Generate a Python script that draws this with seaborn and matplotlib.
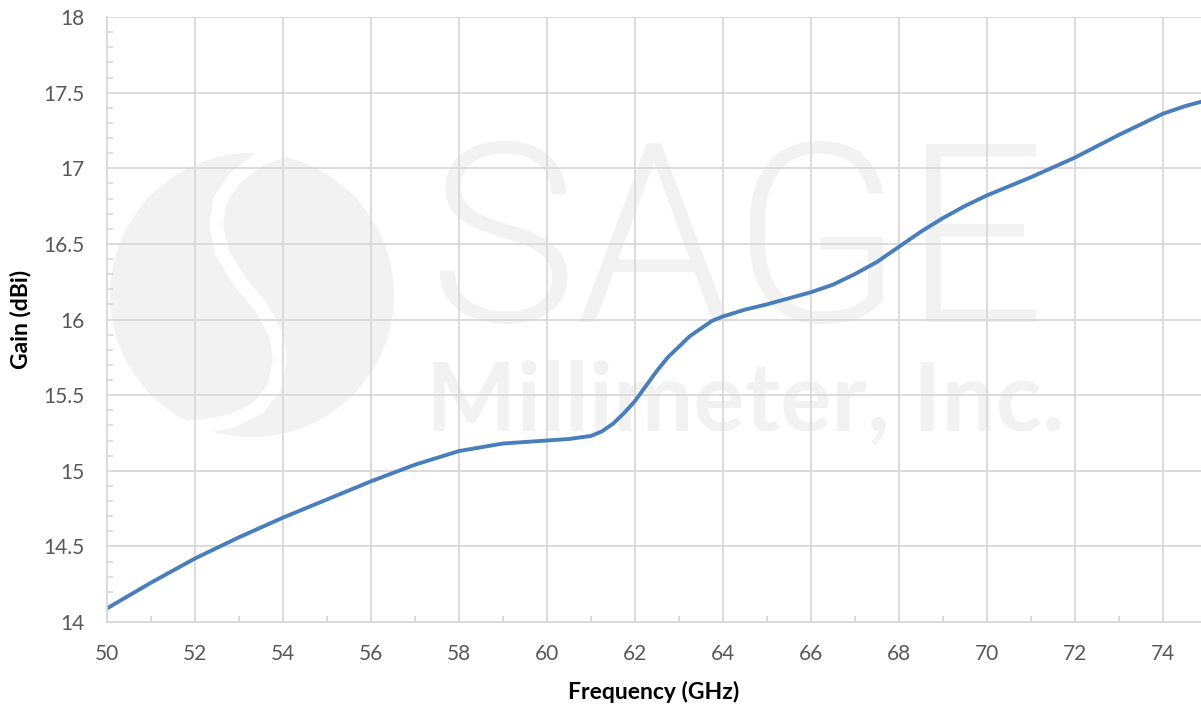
import numpy as np
import pandas as pd
import matplotlib.pyplot as plt
import seaborn as sns
from matplotlib.patches import Ellipse, PathPatch
from matplotlib.path import Path
from matplotlib.ticker import MultipleLocator

freq = [50, 51, 52, 53, 54, 55, 56, 57, 58, 59, 60, 60.5, 61, 61.25, 61.5, 61.75,
        62, 62.25, 62.5, 62.75, 63, 63.25, 63.5, 63.75, 64, 64.5, 65, 65.5, 66,
        66.5, 67, 67.5, 68, 68.5, 69, 69.5, 70, 71, 72, 73, 74, 74.5, 75]
gain = [14.09, 14.26, 14.42, 14.56, 14.69, 14.81, 14.93, 15.04, 15.13, 15.18,
        15.20, 15.21, 15.23, 15.26, 15.31, 15.38, 15.46, 15.56, 15.66, 15.75,
        15.82, 15.89, 15.94, 15.99, 16.02, 16.065, 16.10, 16.14, 16.18, 16.23,
        16.30, 16.38, 16.48, 16.58, 16.67, 16.75, 16.82, 16.94, 17.07, 17.22,
        17.36, 17.41, 17.45]

df = pd.DataFrame({"Frequency (GHz)": freq, "Gain (dBi)": gain})

sns.set_style("white")
plt.rcParams["font.family"] = ["Lato", "DejaVu Sans"]

W, H = 1201, 706
fig = plt.figure(figsize=(W / 100, H / 100), dpi=100)
ax = fig.add_axes([107 / W, 84 / H, (W - 107) / W, (622 - 17) / H])
ax.patch.set_alpha(0)

# watermark (pixel positions converted to figure fraction)
def fx(px):
    return px / W

def fy(py):
    return 1 - py / H

wm = "#f2f2f2"
fig.patches.append(Ellipse((fx(252), fy(295)), 284 / W, 284 / H,
                           transform=fig.transFigure, facecolor=wm,
                           edgecolor="none", zorder=-2))
s_pts = [(285, 150), (258, 160), (235, 178), (220, 200), (216, 225), (222, 253),
         (240, 282), (262, 308), (276, 335), (280, 360), (274, 388), (258, 408),
         (232, 421), (205, 426), (185, 428)]
verts = [(fx(a), fy(b)) for a, b in s_pts]
s_path = Path(verts, [Path.MOVETO] + [Path.LINETO] * (len(verts) - 1))
fig.patches.append(PathPatch(s_path, facecolor="none", edgecolor="white", lw=10,
                             transform=fig.transFigure, zorder=-1,
                             capstyle="round", joinstyle="round"))
fig.text(fx(428), fy(322), "SAGE", fontsize=180, color=wm, family="Roboto",
         fontweight=300, ha="left", va="baseline", zorder=-1)
fig.text(fx(426), fy(430), "Millimeter, Inc.", fontsize=69, color=wm,
         fontweight="bold", ha="left", va="baseline", zorder=-1)

sns.lineplot(data=df, x="Frequency (GHz)", y="Gain (dBi)", ax=ax,
             color="#4a7ebb", lw=2.8)

ax.set_xlim(50, 74.87)
ax.set_ylim(14, 18)
ax.xaxis.set_major_locator(MultipleLocator(2))
ax.xaxis.set_minor_locator(MultipleLocator(1))
ax.yaxis.set_minor_locator(MultipleLocator(0.1))
ax.set_yticks(np.arange(14, 18.01, 0.5))
ax.set_yticklabels(["14", "14.5", "15", "15.5", "16", "16.5", "17", "17.5", "18"])

grid_c = "#d9d9d9"
ax.grid(True, which="major", color=grid_c, lw=1.3)
for s in ["top", "right"]:
    ax.spines[s].set_visible(False)
for s in ["left", "bottom"]:
    ax.spines[s].set_color(grid_c)
    ax.spines[s].set_linewidth(1.3)

ax.tick_params(which="major", length=0, labelsize=15, labelcolor="#595959")
ax.tick_params(axis="y", which="major", pad=16)
ax.tick_params(axis="x", which="major", pad=16)
ax.tick_params(which="minor", direction="in", length=4, width=1.3, color=grid_c)
ax.tick_params(axis="x", which="minor", bottom=True)
ax.tick_params(axis="y", which="minor", left=True)

ax.set_xlabel("Frequency (GHz)", fontsize=16.5, fontweight="bold", color="black", labelpad=12)
ax.set_ylabel("Gain (dBi)", fontsize=16.5, fontweight="bold", color="black", labelpad=9)

fig.savefig("out.png", dpi=100)
